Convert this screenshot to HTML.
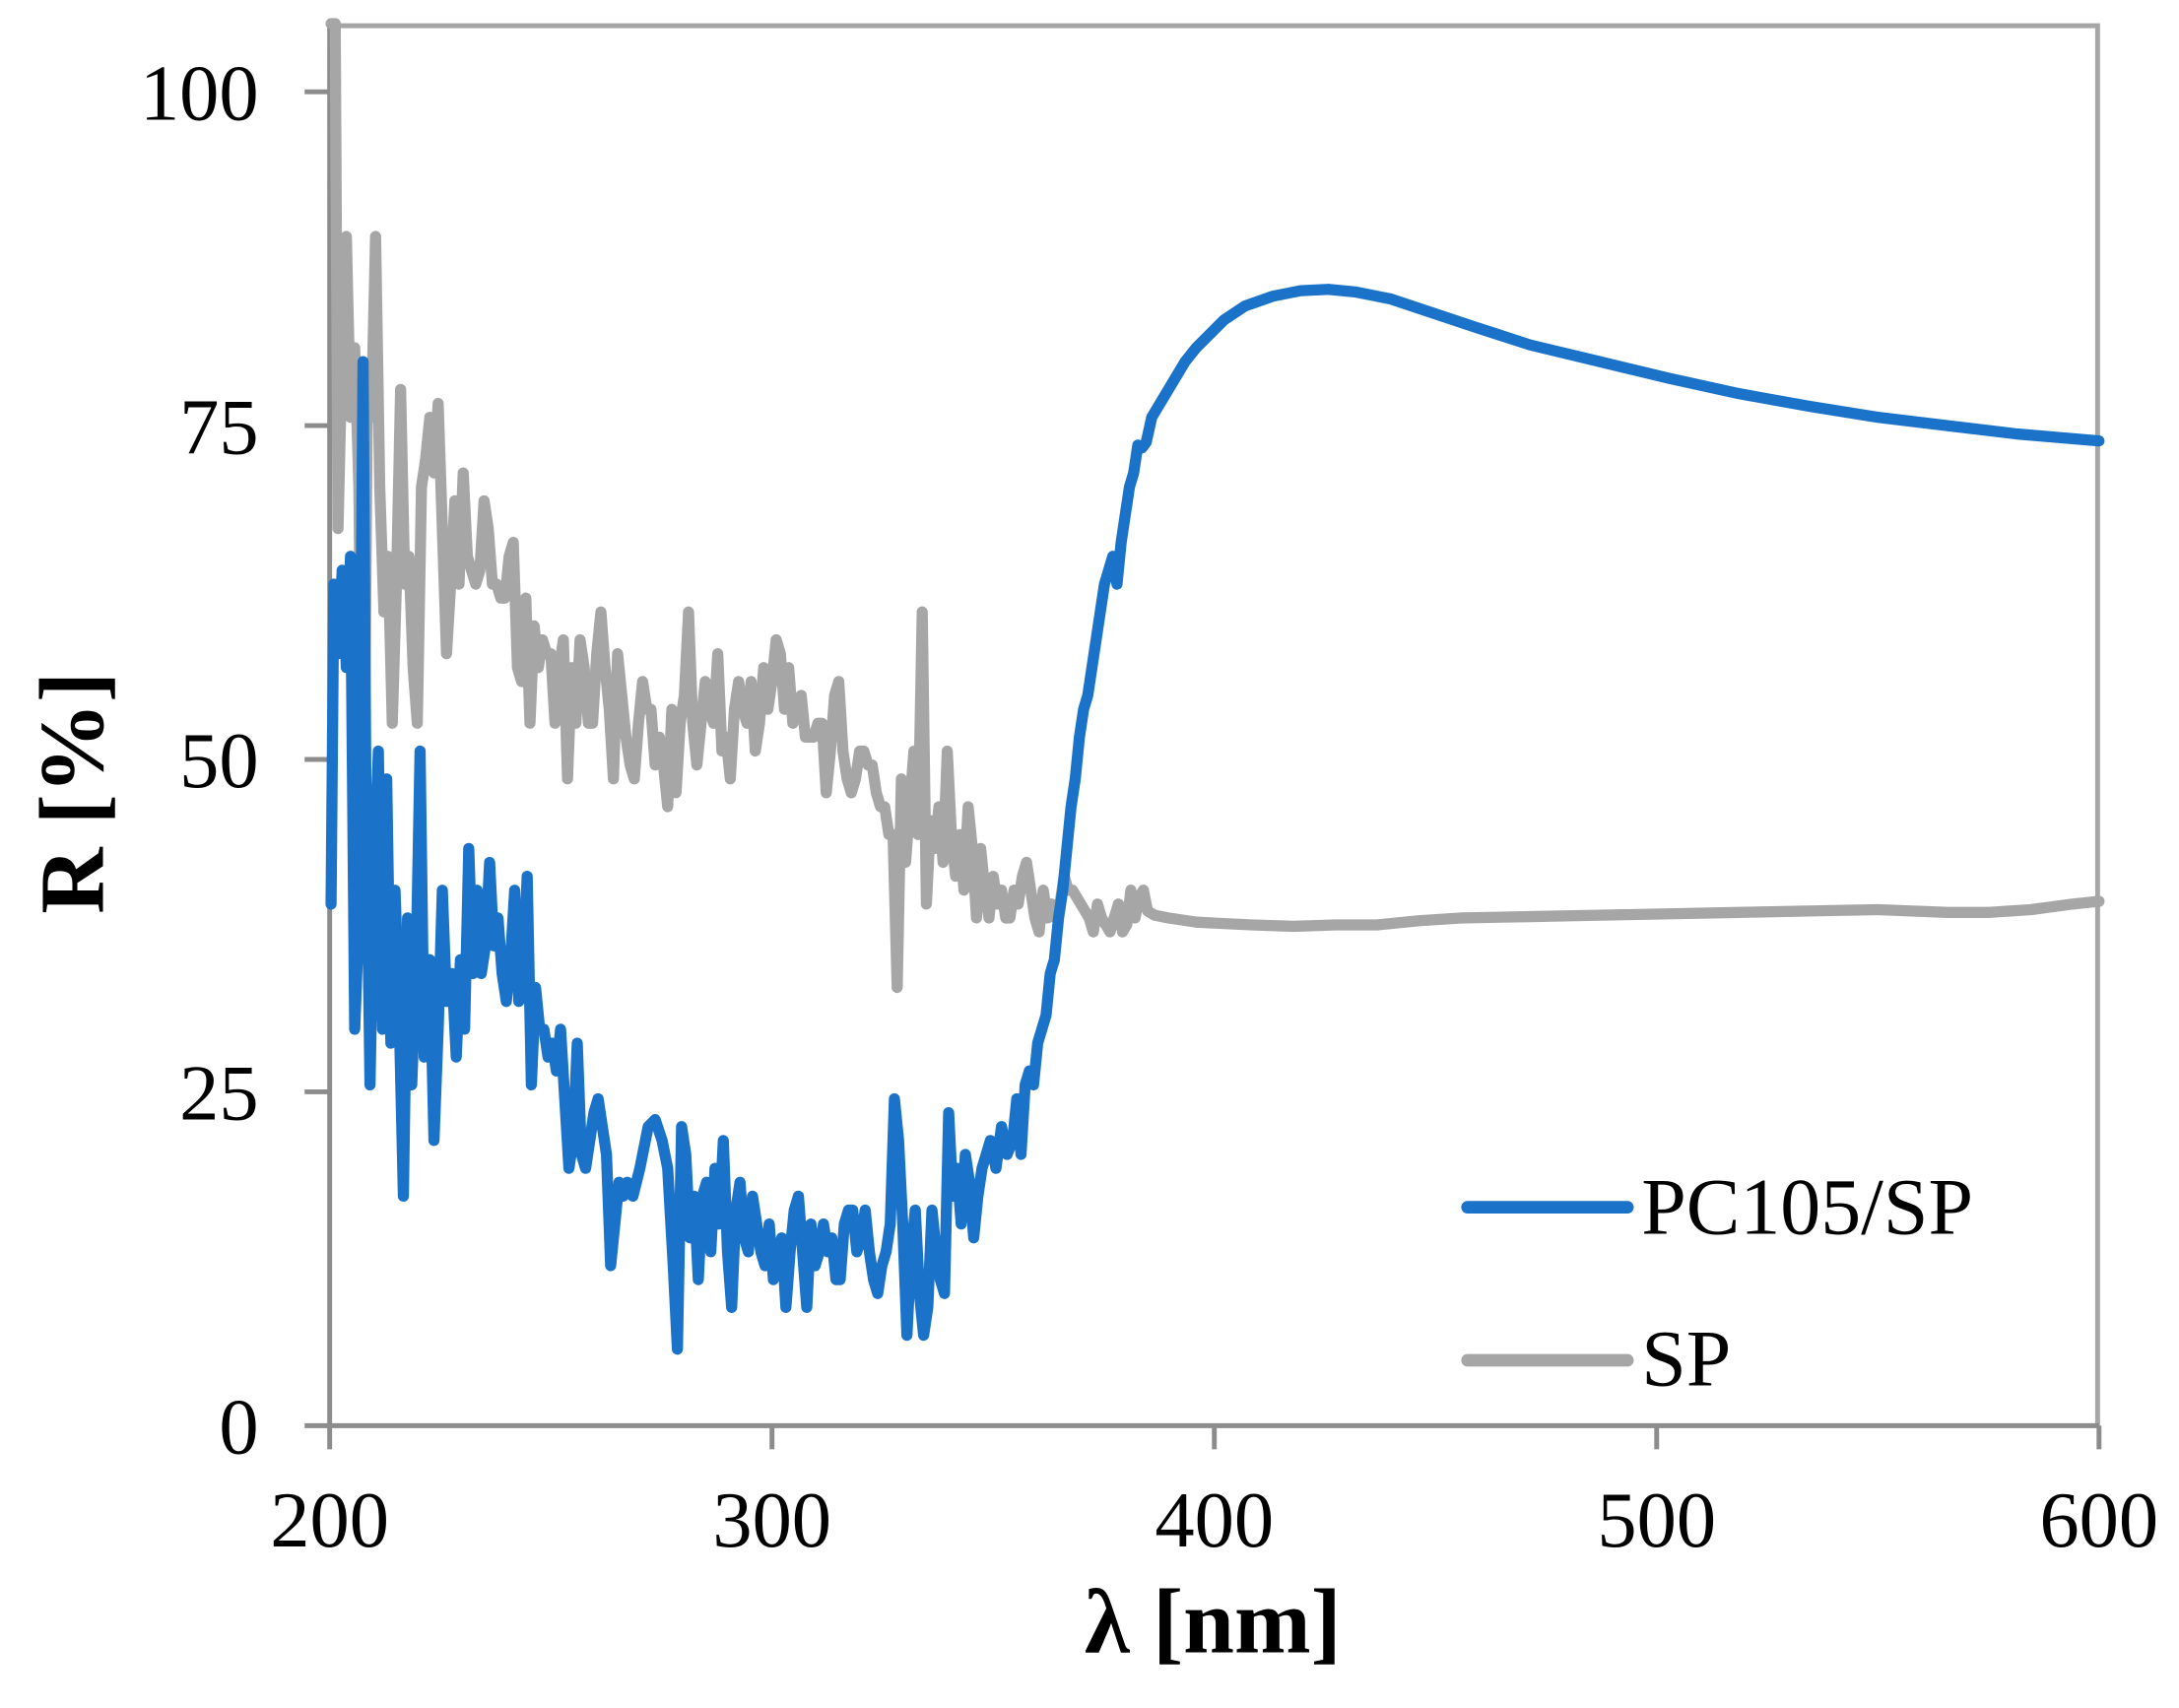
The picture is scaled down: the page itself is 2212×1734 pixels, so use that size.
<!DOCTYPE html>
<html><head><meta charset="utf-8"><style>html,body{margin:0;padding:0;background:#fff}svg{display:block}text{font-family:"Liberation Serif","Times New Roman",serif}</style></head><body>
<svg width="2212" height="1734" viewBox="0 0 1566.5 1228" preserveAspectRatio="none" xmlns="http://www.w3.org/2000/svg" style="font-family:'Liberation Serif',serif">
<rect width="1566.5" height="1228" fill="#fff"/>
<polyline points="237,18.5 1508,18.5 1508,1025" fill="none" stroke="#a6a6a6" stroke-width="3.5"/>
<g stroke="#8c8c8c" stroke-width="3.5" fill="none">
<line x1="237" y1="17" x2="237" y2="1025"/>
<line x1="219" y1="1025" x2="1509" y2="1025"/>
<line x1="219" y1="66" x2="237" y2="66"/>
<line x1="219" y1="306" x2="237" y2="306"/>
<line x1="219" y1="546" x2="237" y2="546"/>
<line x1="219" y1="785" x2="237" y2="785"/>
<line x1="237" y1="1025" x2="237" y2="1042"/>
<line x1="555" y1="1025" x2="555" y2="1042"/>
<line x1="873" y1="1025" x2="873" y2="1042"/>
<line x1="1191" y1="1025" x2="1191" y2="1042"/>
<line x1="1509" y1="1025" x2="1509" y2="1042"/>
</g>
<g font-size="57" text-anchor="end" fill="#000">
<text x="186" y="86">100</text>
<text x="186" y="326">75</text>
<text x="186" y="566">50</text>
<text x="186" y="805">25</text>
<text x="186" y="1045">0</text>
</g>
<g font-size="57" text-anchor="middle" fill="#000">
<text x="237" y="1112">200</text>
<text x="555" y="1112">300</text>
<text x="873" y="1112">400</text>
<text x="1191" y="1112">500</text>
<text x="1509" y="1112">600</text>
</g>
<text x="872" y="1188" font-size="66" font-weight="bold" text-anchor="middle">λ [nm]</text>
<text transform="translate(74,570) rotate(-90)" font-size="66" font-weight="bold" text-anchor="middle">R [%]</text>
<polyline fill="none" stroke="#a6a6a6" stroke-width="8" stroke-linejoin="round" stroke-linecap="round" points="238,17 241,17 243,380 246,250 249,170 252,300 255,250 258,350 261,670 264,300 267,300 270,170 273,350 276,440 279,400 282,520 285,420 288,280 291,420 294,400 297,480 300,520 303,350 306,330 309,300 312,340 315,290 318,380 321,470 324,420 327,360 330,420 333,340 336,400 339,410 342,420 345,410 348,360 351,380 354,420 357,420 360,430 363,430 366,400 369,390 372,480 375,490 378,430 381,520 384,450 387,480 390,460 393,470 396,470 399,520 402,480 405,460 408,560 411,480 414,520 417,460 420,480 423,520 426,520 429,470 432,440 435,480 438,510 441,560 444,470 447,500 450,530 453,550 456,560 459,520 462,490 465,510 468,510 471,550 474,530 477,550 480,580 483,510 486,570 489,520 492,500 495,440 498,520 501,550 504,520 507,490 510,510 513,520 516,470 519,540 522,530 525,560 528,510 531,490 534,510 537,520 540,490 543,540 546,520 549,480 552,510 555,490 558,460 561,470 564,510 567,480 570,520 573,510 576,500 579,530 582,530 585,530 588,520 591,520 594,570 597,540 600,500 603,490 606,540 609,560 612,570 615,560 618,540 621,540 624,550 627,550 630,570 633,580 636,580 639,600 642,600 645,710 648,560 651,620 654,580 657,540 660,600 663,440 666,650 669,590 672,610 675,580 678,620 681,540 684,600 687,630 690,600 693,640 696,580 699,610 702,660 705,610 708,640 711,660 714,630 717,650 720,640 723,660 726,660 729,640 732,650 735,630 738,620 741,640 744,660 747,670 750,640 753,660 756,650 759,660 762,650 765,630 768,640 771,640 774,645 777,650 780,655 783,660 786,670 789,650 792,660 795,665 798,670 801,660 804,650 807,670 810,665 813,640 816,660 819,645 822,640 825,655 830,658 840,660 860,663 880,664 900,665 930,666 960,665 990,665 1020,662 1050,660 1100,659 1150,658 1200,657 1250,656 1300,655 1350,654 1400,656 1430,656 1460,654 1490,650 1509,648"/>
<polyline fill="none" stroke="#1a72c9" stroke-width="8" stroke-linejoin="round" stroke-linecap="round" points="238,650 240,420 243,470 246,410 249,480 252,400 255,740 258,660 261,260 263,560 266,780 269,620 272,540 275,740 278,560 281,750 284,640 287,730 290,860 293,660 296,780 299,700 302,540 305,760 309,690 312,820 315,740 318,640 321,720 325,700 328,760 331,690 334,740 337,610 340,700 343,640 346,700 349,680 352,620 355,680 358,660 361,700 364,720 367,690 370,640 373,720 376,700 379,630 382,780 385,710 388,740 391,740 394,760 397,750 400,770 403,740 406,790 409,840 412,820 415,750 418,830 421,840 424,820 427,800 430,790 433,810 436,830 439,910 442,880 445,850 448,860 451,850 455,860 460,840 466,810 471,805 476,820 480,840 484,910 487,970 490,810 493,830 496,890 499,860 502,920 505,860 508,850 511,900 514,840 517,880 520,820 523,900 526,940 529,870 532,850 535,890 538,900 541,860 544,880 547,900 550,910 553,880 556,920 559,900 562,890 565,940 568,900 571,870 574,860 577,900 580,940 583,880 586,910 589,900 592,880 595,900 598,890 601,920 604,920 607,880 610,870 613,870 616,900 619,890 622,870 625,900 628,920 631,930 634,910 637,900 640,880 643,790 646,820 649,880 652,960 655,900 658,870 661,930 664,960 667,940 670,870 673,900 676,920 679,930 682,800 685,860 688,840 691,880 694,830 697,850 700,890 703,860 706,840 709,830 712,820 716,840 720,810 724,830 728,820 731,790 734,830 737,780 740,770 743,780 746,750 749,740 752,730 755,700 758,690 761,660 764,640 767,610 770,580 773,560 776,530 779,510 782,500 785,480 788,460 791,440 794,420 797,410 800,400 803,420 806,390 809,370 812,350 815,340 818,320 821,322 824,318 828,300 834,290 840,280 846,270 852,260 860,250 870,240 880,230 895,220 915,213 935,209 955,208 975,210 1000,215 1030,225 1060,235 1100,248 1150,260 1200,272 1250,283 1300,292 1350,300 1400,306 1450,312 1509,317"/>
<line x1="1055" y1="868" x2="1170" y2="868" stroke="#1a72c9" stroke-width="9" stroke-linecap="round"/>
<line x1="1055" y1="978" x2="1170" y2="978" stroke="#a6a6a6" stroke-width="9" stroke-linecap="round"/>
<text x="1180" y="887" font-size="58">PC105/SP</text>
<text x="1180" y="996" font-size="58">SP</text>
</svg>
</body></html>
